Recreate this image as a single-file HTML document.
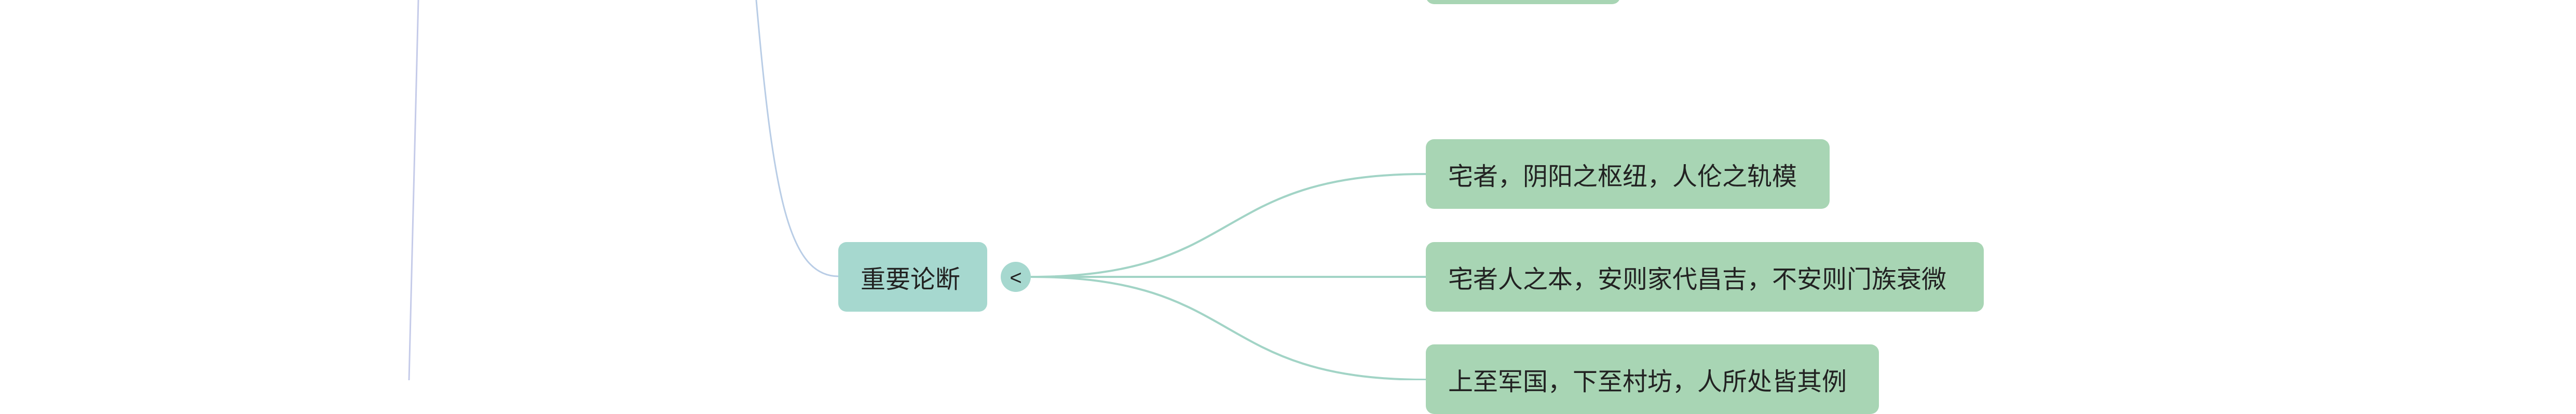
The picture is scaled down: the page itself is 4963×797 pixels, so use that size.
<!DOCTYPE html>
<html><head><meta charset="utf-8"><style>
html,body{margin:0;padding:0;background:#fff;}
body{width:4963px;height:732px;position:relative;overflow:hidden;font-family:"Liberation Sans","Noto Sans CJK SC",sans-serif;}
.n{position:absolute;box-sizing:border-box;border-radius:16px;font-size:48px;color:#222;display:flex;align-items:center;padding-left:43px;white-space:nowrap;}
.g{background:#a8d5b4;}
.t{background:#a6d8cf;}
svg{position:absolute;left:0;top:0;}
</style></head><body>
<svg width="4963" height="732">
<path d="M806 0 L788 732" stroke="#c5cbe9" stroke-width="3" fill="none"/>
<path d="M1457 0 C1490 380 1520 532 1616 532" stroke="#b9cde6" stroke-width="3" fill="none"/>
<path d="M1986 533 C2400 533 2330 335 2747 335" stroke="#a2d4c6" stroke-width="4" fill="none"/>
<path d="M1986 533 L2747 533" stroke="#a2d4c6" stroke-width="4" fill="none"/>
<path d="M1986 533 C2400 533 2330 731 2747 731" stroke="#a2d4c6" stroke-width="4" fill="none"/>
<circle cx="1957" cy="533" r="29" fill="#a6d8cf"/>
<text x="1957" y="548" font-size="40" text-anchor="middle" fill="#222" font-family="Liberation Sans,sans-serif">&lt;</text>
</svg>
<div class="n g" style="left:2747px;top:-120px;width:375px;height:128px;"></div>
<div class="n t" style="left:1615px;top:466px;width:287px;height:134px;">重要论断</div>
<div class="n g" style="left:2747px;top:268px;width:778px;height:134px;">宅者，阴阳之枢纽，人伦之轨模</div>
<div class="n g" style="left:2747px;top:466px;width:1075px;height:134px;">宅者人之本，安则家代昌吉，不安则门族衰微</div>
<div class="n g" style="left:2747px;top:663px;width:873px;height:134px;">上至军国，下至村坊，人所处皆其例</div>
</body></html>
